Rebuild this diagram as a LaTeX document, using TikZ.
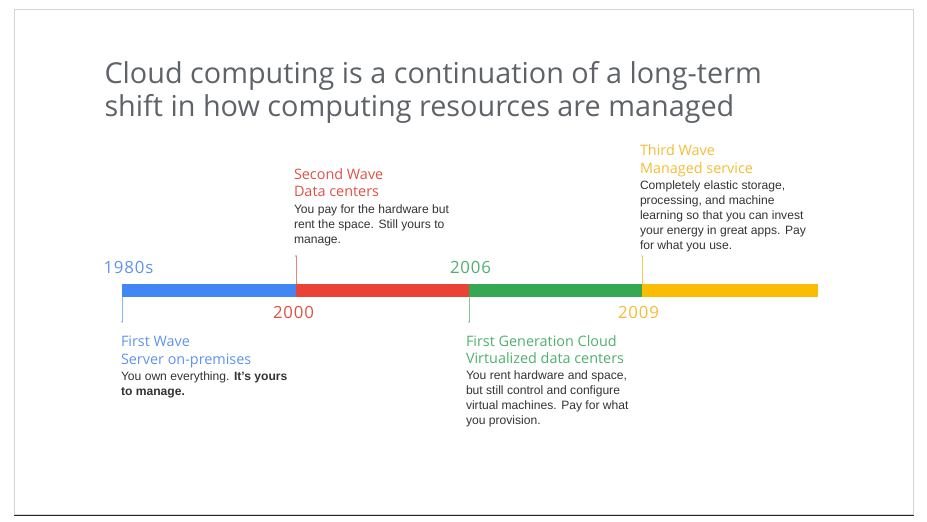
\documentclass[tikz,border=0pt]{standalone}
\usepackage{fontspec}
\setmainfont{Liberation Sans}
\newfontfamily\headfont{Open Sans}[Ligatures=NoCommon]
\newfontfamily\yearfont{Open Sans}[LetterSpace=5]
\newfontfamily\bodyfont{Liberation Sans}

\definecolor{gblue}{HTML}{4285F4}
\definecolor{gred}{HTML}{EA4335}
\definecolor{ggreen}{HTML}{34A853}
\definecolor{gyellow}{HTML}{FBBC04}
\definecolor{tblue}{HTML}{5E93EE}
\definecolor{tred}{HTML}{DE5246}
\definecolor{tgreen}{HTML}{4FB06E}
\definecolor{tyellow}{HTML}{F5BC35}
\definecolor{titlegray}{HTML}{5F6368}
\definecolor{bodygray}{HTML}{333333}
\definecolor{framegray}{HTML}{D6D6D6}

\begin{document}
\begin{tikzpicture}[x=1pt,y=-1pt,
  every node/.style={inner sep=0pt, outer sep=0pt, anchor=base west},
  titletext/.style={font=\headfont\fontsize{28.8}{30}\selectfont, text=titlegray},
  yeartext/.style={font=\yearfont\fontsize{16.8}{18}\selectfont},
  headtext/.style={font=\headfont\fontsize{14.4}{16}\selectfont},
  bodytext/.style={font=\bodyfont\fontsize{12.1}{14}\selectfont, text=bodygray},
  tick/.style={line width=0.55pt}
]
\useasboundingbox (0,0) rectangle (927,522);

% slide frame
\draw[framegray, line width=0.8pt] (14.5,9.5) rectangle (913,514);
\draw[black!85, line width=1.3pt] (14,515.5) -- (913.5,515.5);

% title
\node[titletext] (title1) at (104.5,83.5) {Cloud computing is a continuation of a long-term};
\node[titletext] (title2) at (104.5,116.8) {shift in how computing resources are managed};

% timeline bar
\fill[gblue]   (122,284) rectangle (296,296.5);
\fill[gred]    (296,284) rectangle (469,296.5);
\fill[ggreen]  (469,284) rectangle (642,296.5);
\fill[gyellow] (642,284) rectangle (818,296.5);

% end points of the tick marks
\coordinate (b1) at (122,296.5);  \coordinate (e1) at (122,322);
\coordinate (b2) at (296,284);    \coordinate (e2) at (296,256);
\coordinate (b3) at (469,296.5);  \coordinate (e3) at (469,322);
\coordinate (b4) at (642,284);    \coordinate (e4) at (642,256);
\draw[tick, tblue!70]   (b1) -- (e1);
\draw[tick, tred!70]    (b2) -- (e2);
\draw[tick, tgreen!70]  (b3) -- (e3);
\draw[tick, tyellow!80] (b4) -- (e4);
\fill[tblue!80]   (e1) circle (0.8pt);
\fill[tred!80]    (e2) circle (0.8pt);
\fill[tgreen!80]  (e3) circle (0.8pt);
\fill[tyellow!90] (e4) circle (0.8pt);

% years
\node[yeartext, text=tblue]   (y1980) at (103.5,273.5) {1980s};
\node[yeartext, text=tred]    (y2000) at (273,318.5) {2000};
\node[yeartext, text=tgreen]  (y2006) at (450,273.5) {2006};
\node[yeartext, text=tyellow] (y2009) at (618,318.5) {2009};

% first wave
\node[headtext, text=tblue] (w1a) at (121,346.7) {First Wave};
\node[headtext, text=tblue] (w1b) at (121,364.3) {Server on-premises};
\node[bodytext] (w1c) at (121,380) {You own everything. \textbf{It’s yours}};
\node[bodytext] (w1d) at (121,395.3) {\textbf{to manage.}};

% second wave
\node[headtext, text=tred] (w2a) at (294,179.5) {Second Wave};
\node[headtext, text=tred] (w2b) at (294,196.8) {Data centers};
\node[bodytext] (w2c) at (294,213.3) {You pay for the hardware but};
\node[bodytext] (w2d) at (294,228.3) {rent the space. Still yours to};
\node[bodytext] (w2e) at (294,243.3) {manage.};

% first generation cloud
\node[headtext, text=tgreen] (w3a) at (466,346.7) {First Generation Cloud};
\node[headtext, text=tgreen] (w3b) at (466,363.5) {Virtualized data centers};
\node[bodytext] (w3c) at (466,379.5) {You rent hardware and space,};
\node[bodytext] (w3d) at (466,394.5) {but still control and configure};
\node[bodytext] (w3e) at (466,409.5) {virtual machines. Pay for what};
\node[bodytext] (w3f) at (466,424.5) {you provision.};

% third wave
\node[headtext, text=tyellow] (w4a) at (640,155.3) {Third Wave};
\node[headtext, text=tyellow] (w4b) at (640,173.3) {Managed service};
\node[bodytext] (w4c) at (640,189.3) {Completely elastic storage,};
\node[bodytext] (w4d) at (640,204.4) {processing, and machine};
\node[bodytext] (w4e) at (640,219.5) {learning so that you can invest};
\node[bodytext] (w4f) at (640,234.6) {your energy in great apps. Pay};
\node[bodytext] (w4g) at (640,249.7) {for what you use.};
\end{tikzpicture}
\end{document}
